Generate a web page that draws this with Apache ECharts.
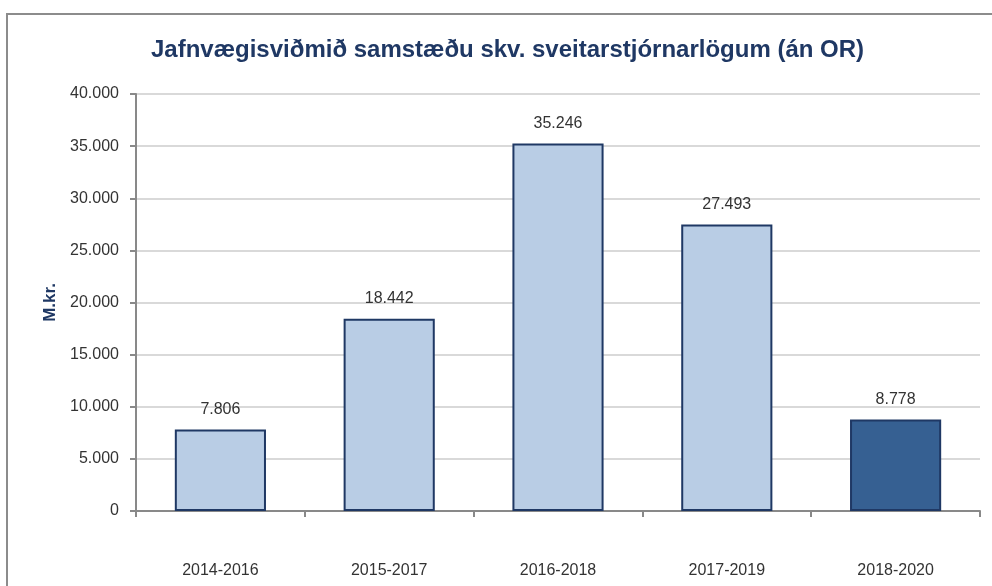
<!DOCTYPE html>
<html>
<head>
<meta charset="utf-8">
<script src="https://cdn.jsdelivr.net/npm/echarts@6/dist/echarts.min.js"></script>
<style>
html,body{margin:0;padding:0;background:#fff;}
#frame{position:absolute;left:6px;top:13px;width:990px;height:580px;border-left:2px solid #8c8c8c;border-top:2px solid #8c8c8c;}
#chart{position:absolute;left:0;top:0;width:992px;height:586px;}
</style>
</head>
<body>
<div id="frame"></div>
<div id="chart"></div>
<script>
var titleText = 'Jafnvægisviðmið samstæðu skv. sveitarstjórnarlögum (án OR)';
var yAxisName = 'M.kr.';
var categories = ['2014-2016', '2015-2017', '2016-2018', '2017-2019', '2018-2020'];
var values = [7806, 18442, 35246, 27493, 8778];
var highlighted = [false, false, false, false, true];
var yMin = 0, yMax = 40000, yStep = 5000;

function fmt(v) {
  return String(Math.round(v)).replace(/\B(?=(\d{3})+(?!\d))/g, '.');
}

var chart = echarts.init(document.getElementById('chart'), null, {renderer: 'canvas'});
var data = values.map(function (v, i) {
  return {
    value: v,
    itemStyle: highlighted[i]
      ? {color: '#366092', borderColor: '#1f3864', borderWidth: 2}
      : {color: '#b9cde5', borderColor: '#1f3864', borderWidth: 2}
  };
});
chart.setOption({
  animation: false,
  backgroundColor: 'transparent',
  title: {
    text: titleText,
    left: 146,
    top: 33,
    textStyle: {fontFamily: 'Liberation Sans, sans-serif', fontSize: 24, fontWeight: 'bold', color: '#1f3864'}
  },
  grid: {left: 136, right: 12, top: 94, bottom: 75, containLabel: false},
  xAxis: {
    type: 'category',
    data: categories,
    axisLine: {lineStyle: {color: '#898989', width: 2}},
    axisTick: {show: true, alignWithLabel: false, length: 6, lineStyle: {color: '#898989', width: 2}},
    axisLabel: {margin: 52, fontFamily: 'Liberation Sans, sans-serif', fontSize: 16, color: '#333'}
  },
  yAxis: {
    type: 'value',
    min: yMin, max: yMax, interval: yStep,
    name: yAxisName,
    nameLocation: 'middle',
    nameRotate: 90,
    nameGap: 76,
    nameTextStyle: {fontFamily: 'Liberation Sans, sans-serif', fontSize: 17, fontWeight: 'bold', color: '#1f3864'},
    axisLine: {show: true, lineStyle: {color: '#898989', width: 2}},
    axisTick: {show: true, length: 6, lineStyle: {color: '#898989', width: 2}},
    axisLabel: {margin: 17, fontFamily: 'Liberation Sans, sans-serif', fontSize: 16, color: '#333', formatter: fmt},
    splitLine: {lineStyle: {color: '#d9d9d9', width: 2}}
  },
  series: [{
    type: 'bar',
    data: data,
    barWidth: '54%',
    label: {
      show: true, position: 'top', distance: 12,
      fontFamily: 'Liberation Sans, sans-serif', fontSize: 16, color: '#333',
      formatter: function (p) { return fmt(p.value); }
    }
  }]
});
</script>
</body>
</html>
